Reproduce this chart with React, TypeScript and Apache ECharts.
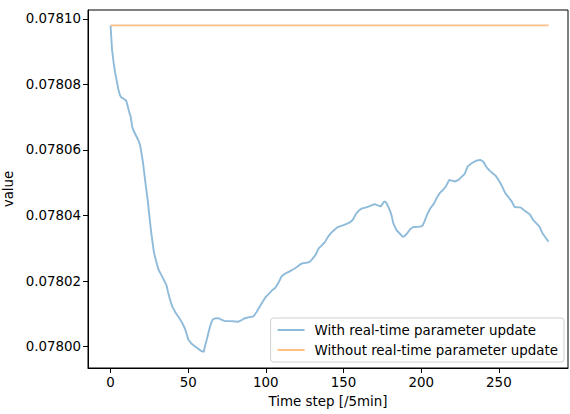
import React, { useEffect, useRef } from "react";
import * as echarts from "echarts";

const timeSteps = [
  0, 1, 2, 3, 4, 5, 6, 7, 8, 10, 11, 12, 13, 14, 15, 16, 18, 19, 20, 21, 22, 23, 24, 25, 26, 27, 28, 29, 30, 31, 32, 34, 36,
  37, 38, 39, 40, 42, 44, 46, 48, 49, 50, 52, 54, 56, 58, 60, 61, 62, 63, 64, 65, 66, 68, 70, 72, 74, 78, 82, 84, 86, 90,
  92, 94, 96, 98, 100, 102, 104, 106, 108, 110, 112, 115, 118, 120, 122, 124, 126, 128, 130, 132, 134, 136, 138, 140, 142,
  144, 146, 148, 150, 152, 154, 156, 158, 160, 162, 164, 166, 168, 170, 172, 174, 176, 177, 178, 180, 181, 182, 184, 186,
  188, 189, 191, 193, 195, 198, 200, 201, 202, 204, 206, 208, 210, 212, 214, 216, 218, 220, 222, 224, 226, 228, 229, 230,
  232, 234, 236, 238, 240, 242, 244, 246, 248, 250, 252, 254, 256, 258, 260, 262, 264, 266, 268, 270, 272, 274, 276, 278,
  280, 282,
];

const withUpdate = [
  0.078098, 0.0780905, 0.0780866, 0.0780835, 0.0780811, 0.0780786, 0.0780768, 0.078076, 0.0780758, 0.0780751, 0.0780735,
  0.0780716, 0.0780701, 0.078067, 0.0780657, 0.0780648, 0.0780629, 0.0780616, 0.0780588, 0.0780558, 0.0780518, 0.0780481,
  0.0780445, 0.0780399, 0.0780356, 0.078032, 0.0780286, 0.0780268, 0.0780249, 0.0780234, 0.0780225, 0.0780207, 0.0780188,
  0.0780167, 0.0780149, 0.0780133, 0.078012, 0.0780103, 0.0780089, 0.0780074, 0.0780054, 0.0780039, 0.0780022, 0.078001,
  0.0780002, 0.0779995, 0.0779988, 0.0779984, 0.0780005, 0.0780023, 0.0780042, 0.078006, 0.0780075, 0.0780084, 0.0780087,
  0.0780086, 0.0780081, 0.0780078, 0.0780078, 0.0780076, 0.078008, 0.0780086, 0.0780091, 0.0780092, 0.0780106, 0.0780122,
  0.0780138, 0.0780152, 0.0780162, 0.0780172, 0.0780179, 0.0780194, 0.0780214, 0.0780222, 0.0780229, 0.0780237, 0.0780243,
  0.0780251, 0.0780255, 0.0780256, 0.0780258, 0.0780268, 0.078028, 0.07803, 0.0780309, 0.0780319, 0.0780335, 0.0780347,
  0.0780356, 0.0780364, 0.0780368, 0.0780371, 0.0780375, 0.0780379, 0.0780387, 0.0780405, 0.0780416, 0.0780422, 0.0780424,
  0.0780427, 0.0780431, 0.0780435, 0.0780431, 0.0780428, 0.0780442, 0.0780442, 0.0780435, 0.0780414, 0.0780399, 0.0780377,
  0.0780356, 0.0780346, 0.0780336, 0.0780336, 0.0780346, 0.0780359, 0.0780365, 0.0780366, 0.0780367, 0.078037, 0.0780381,
  0.0780405, 0.0780423, 0.0780435, 0.0780454, 0.0780469, 0.0780478, 0.078049, 0.0780509, 0.0780506, 0.0780504, 0.0780509,
  0.0780518, 0.0780527, 0.0780539, 0.078055, 0.0780558, 0.0780564, 0.0780568, 0.078057, 0.0780564, 0.0780548, 0.0780537,
  0.0780529, 0.0780521, 0.0780507, 0.078049, 0.0780469, 0.0780457, 0.0780445, 0.0780427, 0.0780425, 0.0780425, 0.0780417,
  0.078041, 0.0780403, 0.0780387, 0.0780377, 0.0780367, 0.0780347, 0.0780333, 0.078032,
];

const withoutSteps = [0, 282];
const withoutUpdate = [0.078098, 0.078098];

const xTicks = [0, 50, 100, 150, 200, 250];
const yTicks = [0.078, 0.07802, 0.07804, 0.07806, 0.07808, 0.0781];

const seriesNames = ["With real-time parameter update", "Without real-time parameter update"];

const FONT = "DejaVu Sans";
const FS = 13.4;

export default function App() {
  const ref = useRef<HTMLDivElement>(null);
  useEffect(() => {
    if (!ref.current) return;
    const chart = echarts.init(ref.current, undefined, { renderer: "svg" });
    chart.setOption({
      animation: false,
      backgroundColor: "#fff",
      textStyle: { fontFamily: FONT, color: "#000" },
      grid: {
        left: 88,
        right: 2,
        top: 10,
        bottom: 46,
        containLabel: false,
        outerBoundsMode: "none",
        show: true,
        borderColor: "#000",
        borderWidth: 1,
        backgroundColor: "transparent",
      },
      legend: {
        orient: "vertical",
        right: 6,
        bottom: 52,
        padding: [5, 6, 5, 7],
        itemGap: 6,
        itemWidth: 27,
        itemHeight: 2,
        icon: "rect",
        backgroundColor: "#fff",
        borderColor: "#d0d0d0",
        borderWidth: 1,
        borderRadius: 3,
        data: seriesNames,
        textStyle: {
          fontFamily: FONT,
          fontSize: FS,
          color: "#000",
          lineHeight: 14,
          padding: [0, 0, 0, 5],
        },
      },
      xAxis: {
        type: "value",
        min: -14.5,
        max: 294.5,
        name: "Time step [/5min]",
        nameLocation: "middle",
        nameGap: 27,
        nameTextStyle: { fontFamily: FONT, fontSize: FS, color: "#000" },
        splitLine: { show: false },
        axisLine: { show: true, onZero: false, lineStyle: { color: "#000", width: 1 } },
        axisTick: { show: true, length: 5, lineStyle: { color: "#000", width: 1 }, customValues: xTicks },
        axisLabel: {
          fontFamily: FONT,
          fontSize: FS,
          color: "#000",
          margin: 8,
          customValues: xTicks,
          formatter: (v: number) => String(Math.round(v)),
        },
      },
      yAxis: {
        type: "value",
        min: 0.0779935,
        max: 0.0781027,
        name: "value",
        nameLocation: "middle",
        nameRotate: 90,
        nameGap: 68,
        nameTextStyle: { fontFamily: FONT, fontSize: FS, color: "#000" },
        splitLine: { show: false },
        axisLine: { show: true, onZero: false, lineStyle: { color: "#000", width: 1 } },
        axisTick: { show: true, length: 5, lineStyle: { color: "#000", width: 1 }, customValues: yTicks },
        axisLabel: {
          fontFamily: FONT,
          fontSize: FS,
          color: "#000",
          margin: 7,
          customValues: yTicks,
          formatter: (v: number) => v.toFixed(5),
        },
      },
      series: [
        {
          name: seriesNames[0],
          type: "line",
          data: timeSteps.map((t, i) => [t, withUpdate[i]]),
          showSymbol: false,
          symbol: "none",
          color: "#8fbbda",
          lineStyle: { color: "#8fbbda", width: 1.9 },
          z: 2,
        },
        {
          name: seriesNames[1],
          type: "line",
          data: withoutSteps.map((t, i) => [t, withoutUpdate[i]]),
          showSymbol: false,
          symbol: "none",
          color: "#ffbf87",
          lineStyle: { color: "#ffbf87", width: 1.9 },
          z: 3,
        },
      ],
    });
    return () => chart.dispose();
  }, []);
  return <div ref={ref} style={{ position: "fixed", left: 0, top: 0, width: 570, height: 414 }} />;
}
